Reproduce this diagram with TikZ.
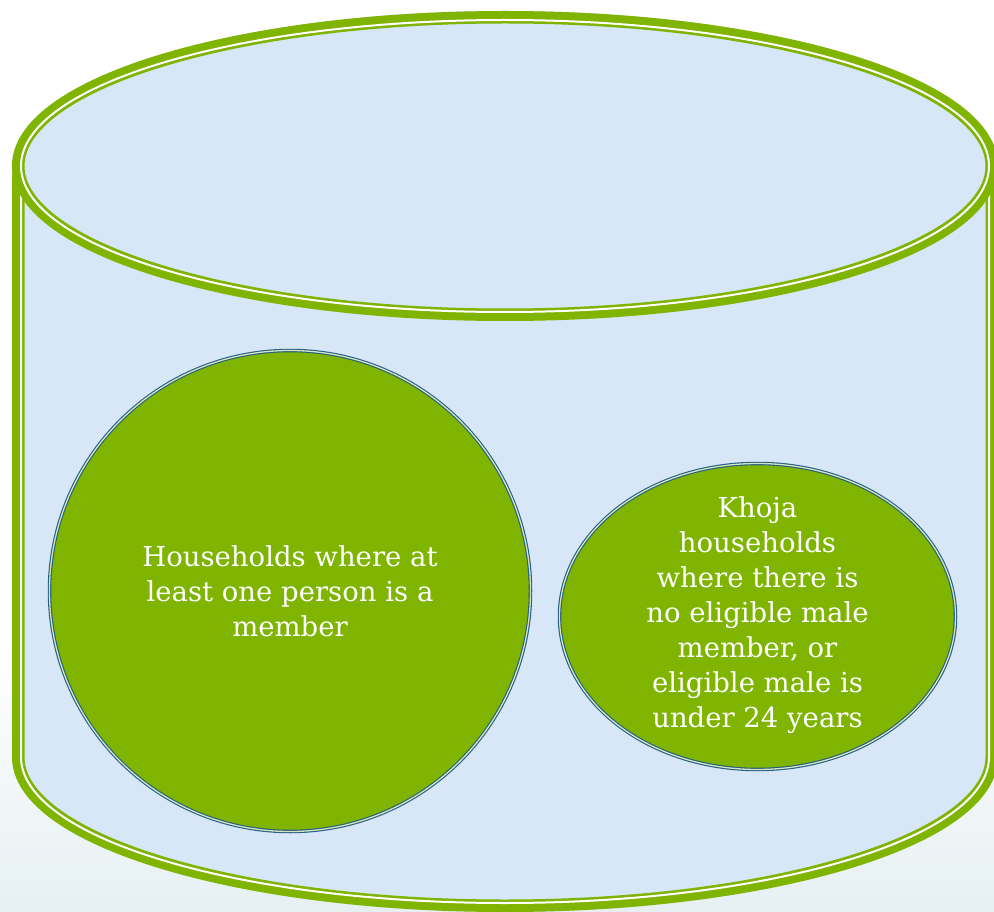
\documentclass[tikz,border=0pt]{standalone}
\usepackage{fontspec}
\setmainfont{DejaVu Serif}
\usetikzlibrary{shapes.geometric}
\definecolor{cylgreen}{RGB}{127,180,0}
\definecolor{cylfill}{RGB}{215,231,247}
\definecolor{circblue}{RGB}{36,94,128}
\definecolor{circlight}{RGB}{215,228,195}
\definecolor{bgbot}{RGB}{230,240,243}
\tikzset{
  greenband/.style={draw=cylgreen, line width=12.5pt},
  whitegap/.style={draw=white, line width=2pt},
  blob/.style={fill=cylgreen, draw=circblue, double=circlight, double distance=1.3pt,
    line width=1.1pt, inner sep=0pt},
  blobtext/.style={inner sep=0pt, text=white, align=center,
    font=\fontsize{27.5}{35}\selectfont},
}
\begin{document}
\begin{tikzpicture}[x=1pt,y=-1pt]
\useasboundingbox (0,0) rectangle (994,912);
% background
\fill[white] (0,0) rectangle (994,912);
\shade[top color=white,bottom color=bgbot] (0,640) rectangle (994,912);
% cylinder body
\fill[cylfill] (12,166) -- (12,757) arc[start angle=180,end angle=0,x radius=493,y radius=155]
  -- (998,166) arc[start angle=0,end angle=-180,x radius=493,y radius=155] -- cycle;
\draw[greenband] (18.25,166) -- (18.25,757) arc[start angle=180,end angle=0,x radius=486.75,y radius=148.75] -- (991.75,166);
\draw[whitegap] (21,166) -- (21,757) arc[start angle=180,end angle=0,x radius=484,y radius=146] -- (989,166);
% cylinder top
\fill[cylfill] (505,166) ellipse[x radius=493,y radius=155];
\draw[greenband] (505,166) ellipse[x radius=486.75,y radius=148.75];
\draw[whitegap] (505,166) ellipse[x radius=484,y radius=146];
% contents
\node[blob, circle, minimum size=481pt] (members) at (290,591) {};
\node[blobtext] (memberstext) at (members.center)
  {Households where at\\least one person is a\\member};
\node[blob, ellipse, minimum width=396pt, minimum height=306pt] (khoja) at (757.5,616.5) {};
\node[blobtext] (khojatext) at ([yshift=1pt]khoja.center)
  {Khoja\\households\\where there is\\no eligible male\\member, or\\eligible male is\\under 24 years};
\end{tikzpicture}
\end{document}
